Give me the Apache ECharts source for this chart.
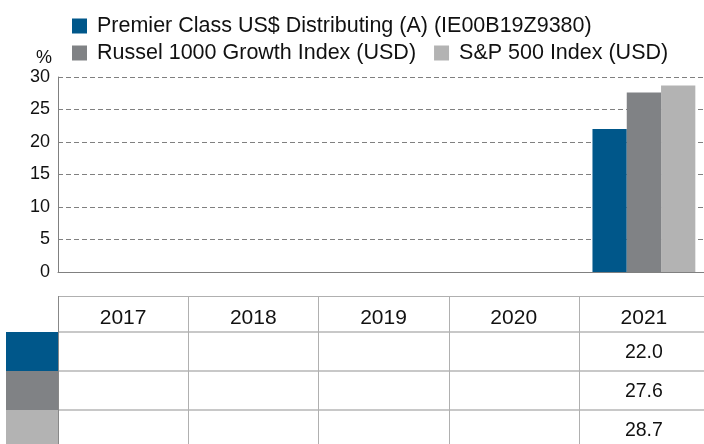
<!DOCTYPE html>
<html>
<head>
<meta charset="utf-8">
<script src="https://cdn.jsdelivr.net/npm/echarts@6/dist/echarts.min.js"></script>
<style>
  html, body { margin: 0; padding: 0; background: #fff; }
  #chart { width: 704px; height: 444px; }
</style>
</head>
<body>
<div id="chart"></div>
<script>
const years = ['2017', '2018', '2019', '2020', '2021']
const seriesNames = [
  'Premier Class US$ Distributing (A) (IE00B19Z9380)',
  'Russel 1000 Growth Index (USD)',
  'S&P 500 Index (USD)'
]
const fundValues = [null, null, null, null, 22.0]
const russelValues = [null, null, null, null, 27.6]
const spValues = [null, null, null, null, 28.7]
const colors = ['#00578a', '#808285', '#b3b3b3']
const yTicks = [0, 5, 10, 15, 20, 25, 30]

const FONT = 'Liberation Sans, Arial, sans-serif'
const chart = echarts.init(document.getElementById('chart'))

const allValues = [fundValues, russelValues, spValues]

chart.setOption({
  animation: false,
  textStyle: { fontFamily: FONT },
  // plot runs a little past the right edge, like the original
  grid: { left: 58, width: 651, top: 77, bottom: 172, outerBoundsMode: 'none', containLabel: false },
  legend: [
    {
      data: [seriesNames[0]],
      left: 67, top: 10,
      itemWidth: 15, itemHeight: 15, icon: 'rect',
      textStyle: { fontSize: 21.5, color: '#111', padding: [0, 0, 0, 5] }
    },
    {
      data: [seriesNames[1], seriesNames[2]],
      left: 67, top: 37, itemGap: 18,
      itemWidth: 15, itemHeight: 15, icon: 'rect',
      textStyle: { fontSize: 21.5, color: '#111', padding: [0, 0, 0, 5] }
    }
  ],
  xAxis: {
    type: 'category',
    data: years,
    axisLine: { lineStyle: { color: '#808080', width: 1 } },
    axisTick: { show: false },
    axisLabel: { show: false }
  },
  yAxis: {
    type: 'value',
    min: yTicks[0], max: yTicks[yTicks.length - 1], interval: 5,
    name: '%', nameGap: 10,
    nameTextStyle: { fontSize: 18, color: '#111', align: 'right', padding: [0, 6, 0, 0] },
    axisLine: { show: true, lineStyle: { color: '#808080' } },
    axisTick: { show: false },
    axisLabel: { fontSize: 18, color: '#111', margin: 8, padding: [4, 0, 0, 0] },
    splitLine: { lineStyle: { color: '#808080', type: [5, 3] } }
  },
  series: allValues.map((vals, i) => ({
    name: seriesNames[i],
    type: 'bar',
    data: vals,
    barGap: 0,
    barCategoryGap: '21%',
    itemStyle: { color: colors[i] }
  }))
})

// data table under the plot, columns follow the x axis categories
function drawTable() {
  const c0 = chart.convertToPixel({ xAxisIndex: 0 }, 0)
  const c1 = chart.convertToPixel({ xAxisIndex: 0 }, 1)
  const colW = c1 - c0
  const left = c0 - colW / 2
  const headTop = 296, headBottom = 332, rowH = 39
  const g = []
  // header text
  years.forEach((y, j) => {
    const cx = chart.convertToPixel({ xAxisIndex: 0 }, j)
    g.push({ type: 'text', x: cx, y: 318,
      style: { text: y, font: '21px ' + FONT, fill: '#111', align: 'center', verticalAlign: 'middle' } })
  })
  // swatches + values
  allValues.forEach((vals, i) => {
    const top = headBottom + i * rowH
    g.push({ type: 'rect', shape: { x: 6, y: top, width: left - 6, height: rowH },
      style: { fill: colors[i] } })
    vals.forEach((v, j) => {
      if (v == null) return
      const cx = chart.convertToPixel({ xAxisIndex: 0 }, j)
      g.push({ type: 'text', x: cx, y: top + rowH / 2 + 1.5,
        style: { text: v.toFixed(1), font: '19.5px ' + FONT, fill: '#111', align: 'center', verticalAlign: 'middle' } })
    })
    // row separator lines
    g.push({ type: 'line', shape: { x1: left, y1: top, x2: 704, y2: top },
      style: { stroke: '#c8c8c8', lineWidth: 2 } })
  })
  // header top line
  g.push({ type: 'line', shape: { x1: left, y1: headTop + 0.5, x2: 704, y2: headTop + 0.5 },
    style: { stroke: '#b0b0b0', lineWidth: 1 } })
  // vertical lines
  for (let j = 0; j < years.length; j++) {
    const x = Math.round(left + j * colW) + 0.5
    g.push({ type: 'line', shape: { x1: x, y1: headTop, x2: x, y2: 444 },
      style: { stroke: j === 0 ? '#888' : '#b0b0b0', lineWidth: 1 } })
  }
  chart.setOption({ graphic: g })
}
drawTable()
</script>
</body>
</html>
